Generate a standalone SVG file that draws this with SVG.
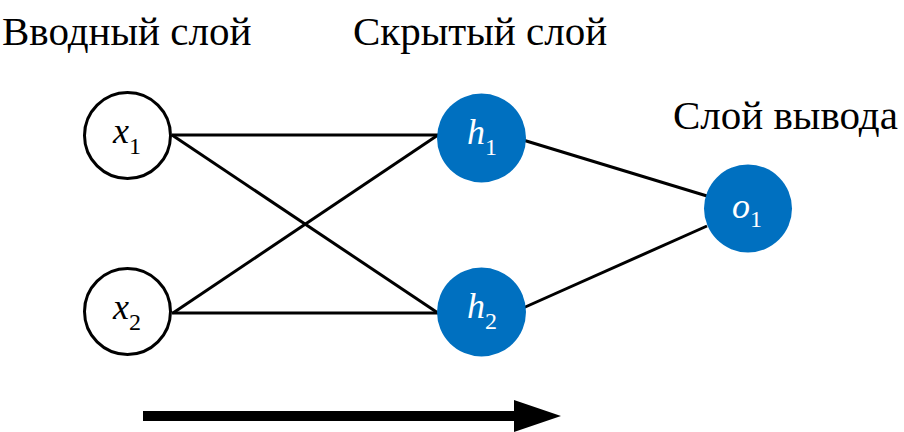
<svg xmlns="http://www.w3.org/2000/svg" width="904" height="432" viewBox="0 0 904 432">
  <style>
    text { font-family: "Liberation Serif", "Times New Roman", serif; }
    .title { font-size: 41px; fill: #000; }
    .in { fill: #fff; stroke: #000; stroke-width: 3; }
    .hid { fill: #0070C0; }
    .lbl { font-style: italic; font-size: 36px; text-anchor: middle; }
    .sub { font-style: normal; font-size: 24px; }
    .edge { stroke: #000; stroke-width: 3; fill: none; }
  </style>
  <defs>
    <marker id="head" markerUnits="userSpaceOnUse" markerWidth="48" markerHeight="32" refX="0" refY="16" orient="auto">
      <path d="M0,0 L47,16 L0,32 Z" fill="#000"/>
    </marker>
  </defs>

  <!-- layer headings -->
  <text class="title" x="2" y="45">Вводный слой</text>
  <text class="title" x="353" y="45">Скрытый слой</text>
  <text class="title" x="673" y="129">Слой вывода</text>

  <!-- weighted connections -->
  <g id="connectors">
    <line class="edge" x1="172" y1="135" x2="438" y2="135"/>
    <line class="edge" x1="172" y1="135" x2="438" y2="313"/>
    <line class="edge" x1="173" y1="313" x2="438" y2="135"/>
    <line class="edge" x1="172" y1="313" x2="438" y2="313"/>
    <line class="edge" x1="523" y1="140" x2="707" y2="196"/>
    <line class="edge" x1="523" y1="308" x2="707" y2="226"/>
  </g>

  <g id="x1">
    <circle class="in" cx="127.5" cy="135.5" r="43"/>
    <text class="lbl" x="127" y="143">x<tspan class="sub" dy="11">1</tspan></text>
  </g>
  <g id="x2">
    <circle class="in" cx="127.5" cy="311.5" r="43"/>
    <text class="lbl" x="127" y="319">x<tspan class="sub" dy="11">2</tspan></text>
  </g>
  <g id="h1">
    <circle class="hid" cx="481.5" cy="138" r="44.5"/>
    <text class="lbl" x="482" y="144" fill="#fff">h<tspan class="sub" dy="11">1</tspan></text>
  </g>
  <g id="h2">
    <circle class="hid" cx="481.5" cy="312" r="44.5"/>
    <text class="lbl" x="482" y="318" fill="#fff">h<tspan class="sub" dy="11">2</tspan></text>
  </g>
  <g id="o1">
    <circle class="hid" cx="748" cy="208.5" r="44"/>
    <text class="lbl" x="747" y="218" fill="#fff">o<tspan class="sub" dy="9">1</tspan></text>
  </g>

  <!-- direction of signal flow -->
  <line x1="143" y1="416" x2="514" y2="416" stroke="#000" stroke-width="10" marker-end="url(#head)"/>
</svg>
